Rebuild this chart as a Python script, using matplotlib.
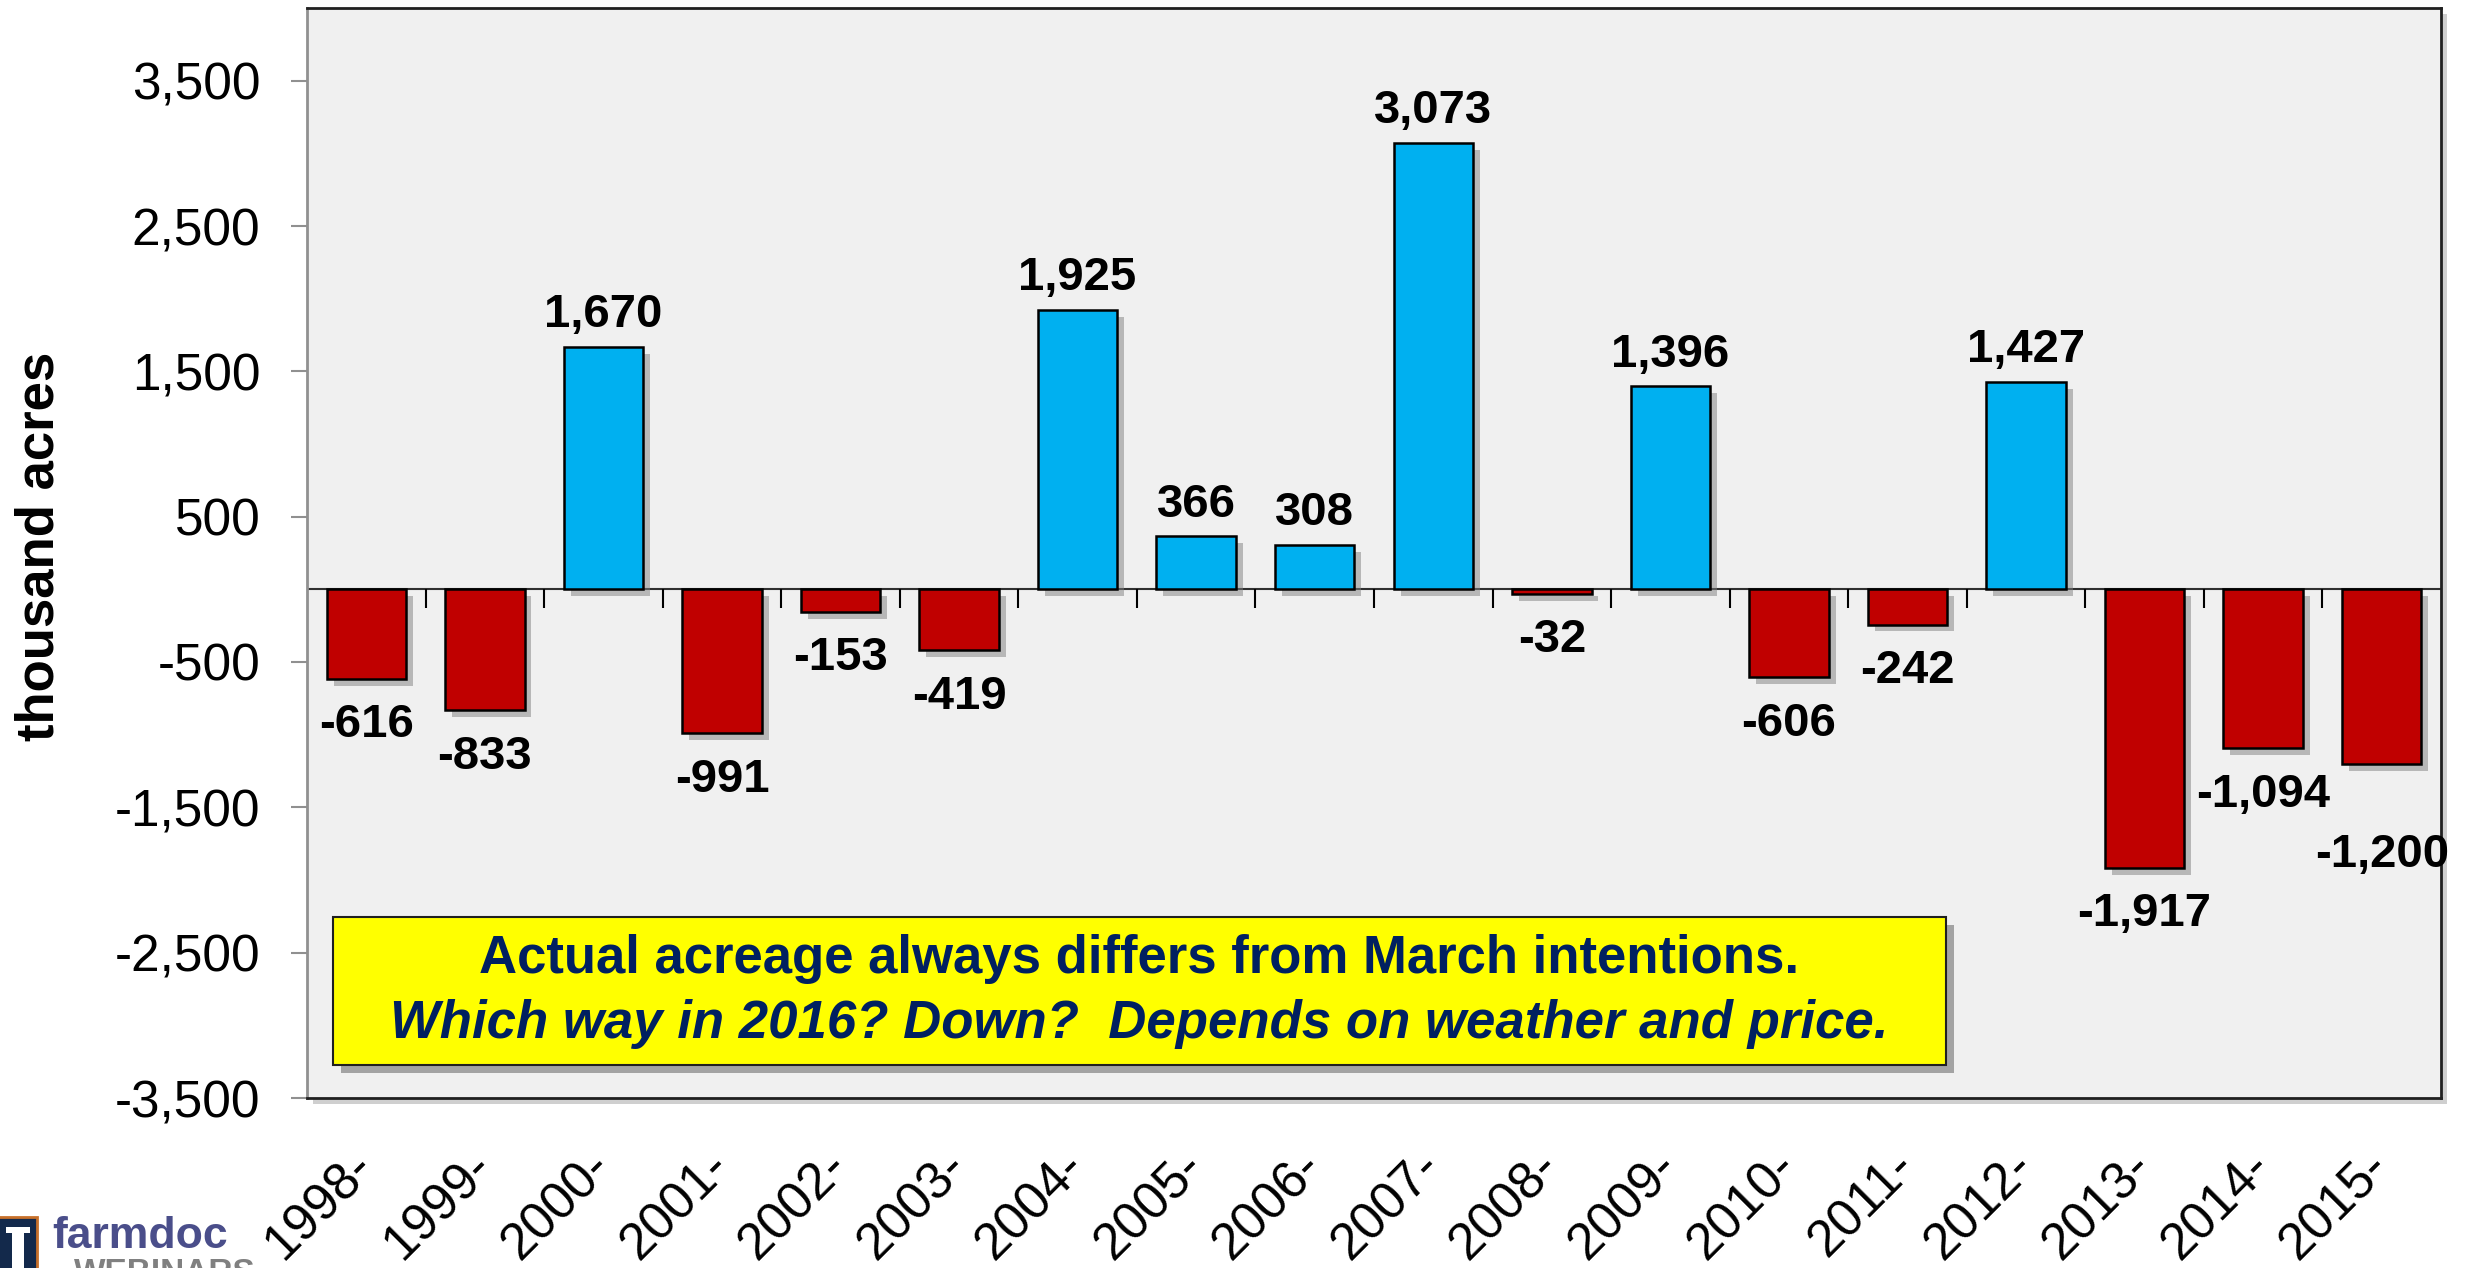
import matplotlib
matplotlib.use('Agg')
import matplotlib.pyplot as plt
import matplotlib.patheffects as pe
from matplotlib.patches import Rectangle
import numpy as np

categories = ['1998-', '1999-', '2000-', '2001-', '2002-', '2003-', '2004-', '2005-', '2006-',
              '2007-', '2008-', '2009-', '2010-', '2011-', '2012-', '2013-', '2014-', '2015-']
values = [-616, -833, 1670, -991, -153, -419, 1925, 366, 308,
          3073, -32, 1396, -606, -242, 1427, -1917, -1094, -1200]
y_ticks = [3500, 2500, 1500, 500, -500, -1500, -2500, -3500]
y_limits = (-3500, 4000)
note_line1 = "Actual acreage always differs from March intentions."
note_line2 = "Which way in 2016? Down?  Depends on weather and price."

# extra downward nudge (points) for labels that were moved to avoid overlap
label_nudge = {'2015-': 32}

plt.rcParams['font.family'] = ['Liberation Sans', 'DejaVu Sans']

W, H = 2475, 1268
fig = plt.figure(figsize=(W / 100, H / 100), dpi=100)
fig.patch.set_facecolor('white')

def fx(px):
    return px / W

def fy(py):
    return 1 - py / H

left, right, top, bottom = 307, 2441, 8, 1098
# plot area shadow
fig.patches.append(Rectangle((fx(left + 6), fy(bottom + 6)), fx(right - left), (bottom - top) / H,
                             transform=fig.transFigure, facecolor='#b0b0b0', edgecolor='none',
                             alpha=0.6, zorder=-5))
ax = fig.add_axes([fx(left), fy(bottom), fx(right - left), (bottom - top) / H])
ax.set_zorder(1)
ax.set_facecolor('#F0F0F0')

x = np.arange(len(categories))
colors = ['#00B0F0' if v > 0 else '#C00000' for v in values]
shadow = [pe.SimplePatchShadow(offset=(5, -5), shadow_rgbFace='#808080', alpha=0.5), pe.Normal()]
ax.axhline(0, color='#303030', lw=1.5, zorder=2)
ax.vlines(x[:-1] + 0.5, -130, 0, color='black', lw=1.5, zorder=2)
ax.bar(x, values, width=0.67, color=colors, edgecolor='black', linewidth=1.8, zorder=3,
       path_effects=shadow)

for xi, cat, v in zip(x, categories, values):
    if v > 0:
        ax.annotate(f"{v:,}", (xi, v), xytext=(0, 14), textcoords='offset points',
                    ha='center', va='baseline', fontsize=34, fontweight='bold', color='black',
                    zorder=5, annotation_clip=False)
    else:
        dy = -42 - label_nudge.get(cat, 0)
        ax.annotate(f"{v:,}", (xi, v), xytext=(0, dy), textcoords='offset points',
                    ha='center', va='baseline', fontsize=34, fontweight='bold', color='black',
                    zorder=5, annotation_clip=False)

ax.set_xlim(-0.5, len(categories) - 0.5)
ax.set_ylim(*y_limits)
ax.set_yticks(y_ticks)
ax.set_yticklabels([f"{t:,}" for t in y_ticks], fontsize=37)
ax.tick_params(axis='y', length=11.5, width=1.5, color='#909090', pad=22)
ax.set_xticks(x)
ax.set_xticklabels(categories, fontsize=37, rotation=45, ha='right', va='center',
                   rotation_mode='anchor')
ax.tick_params(axis='x', length=0, pad=44)

ax.spines['left'].set_color('#909090')
ax.spines['left'].set_linewidth(2)
for s in ['top', 'right', 'bottom']:
    ax.spines[s].set_color('#202020')
    ax.spines[s].set_linewidth(2)

fig.text(fx(40), fy(546), 'thousand acres', rotation=90, ha='center', va='center',
         fontsize=38, fontweight='bold')

# note box
bx0, bx1, by0, by1 = 333, 1946, 917, 1065
box = Rectangle((fx(bx0), fy(by1)), fx(bx1 - bx0), (by1 - by0) / H, transform=fig.transFigure,
                facecolor='#FFFF00', edgecolor='#202020', lw=1.5, zorder=10,
                path_effects=[pe.SimplePatchShadow(offset=(6, -6), shadow_rgbFace='#707070', alpha=0.6),
                              pe.Normal()])
fig.patches.append(box)
fig.text(fx(1139), fy(959), note_line1, ha='center', va='center', fontsize=38,
         fontweight='bold', color='#002060', zorder=11)
fig.text(fx(1139), fy(1024), note_line2, ha='center', va='center', fontsize=38,
         fontweight='bold', fontstyle='italic', color='#002060', zorder=11)

# logo emblem (drawn as shapes)
fig.patches.append(Rectangle((fx(-2), fy(1270)), fx(39), 53 / H, transform=fig.transFigure,
                             facecolor='#13294B', edgecolor='#C8702A', lw=2, zorder=5))
fig.patches.append(Rectangle((fx(6), fy(1233)), fx(24), 6 / H, transform=fig.transFigure,
                             facecolor='white', edgecolor='none', zorder=6))
fig.patches.append(Rectangle((fx(12), fy(1270)), fx(12), 38 / H, transform=fig.transFigure,
                             facecolor='white', edgecolor='none', zorder=6))
fig.text(fx(52), fy(1248), 'farmdoc', ha='left', va='baseline', fontsize=32, fontweight='bold',
         color='#4A4E8A', zorder=6)
fig.text(fx(74), fy(1282), 'WEBINARS', ha='left', va='baseline', fontsize=24, fontweight='bold',
         color='#808080', zorder=6)

fig.savefig('out.png', dpi=100)
